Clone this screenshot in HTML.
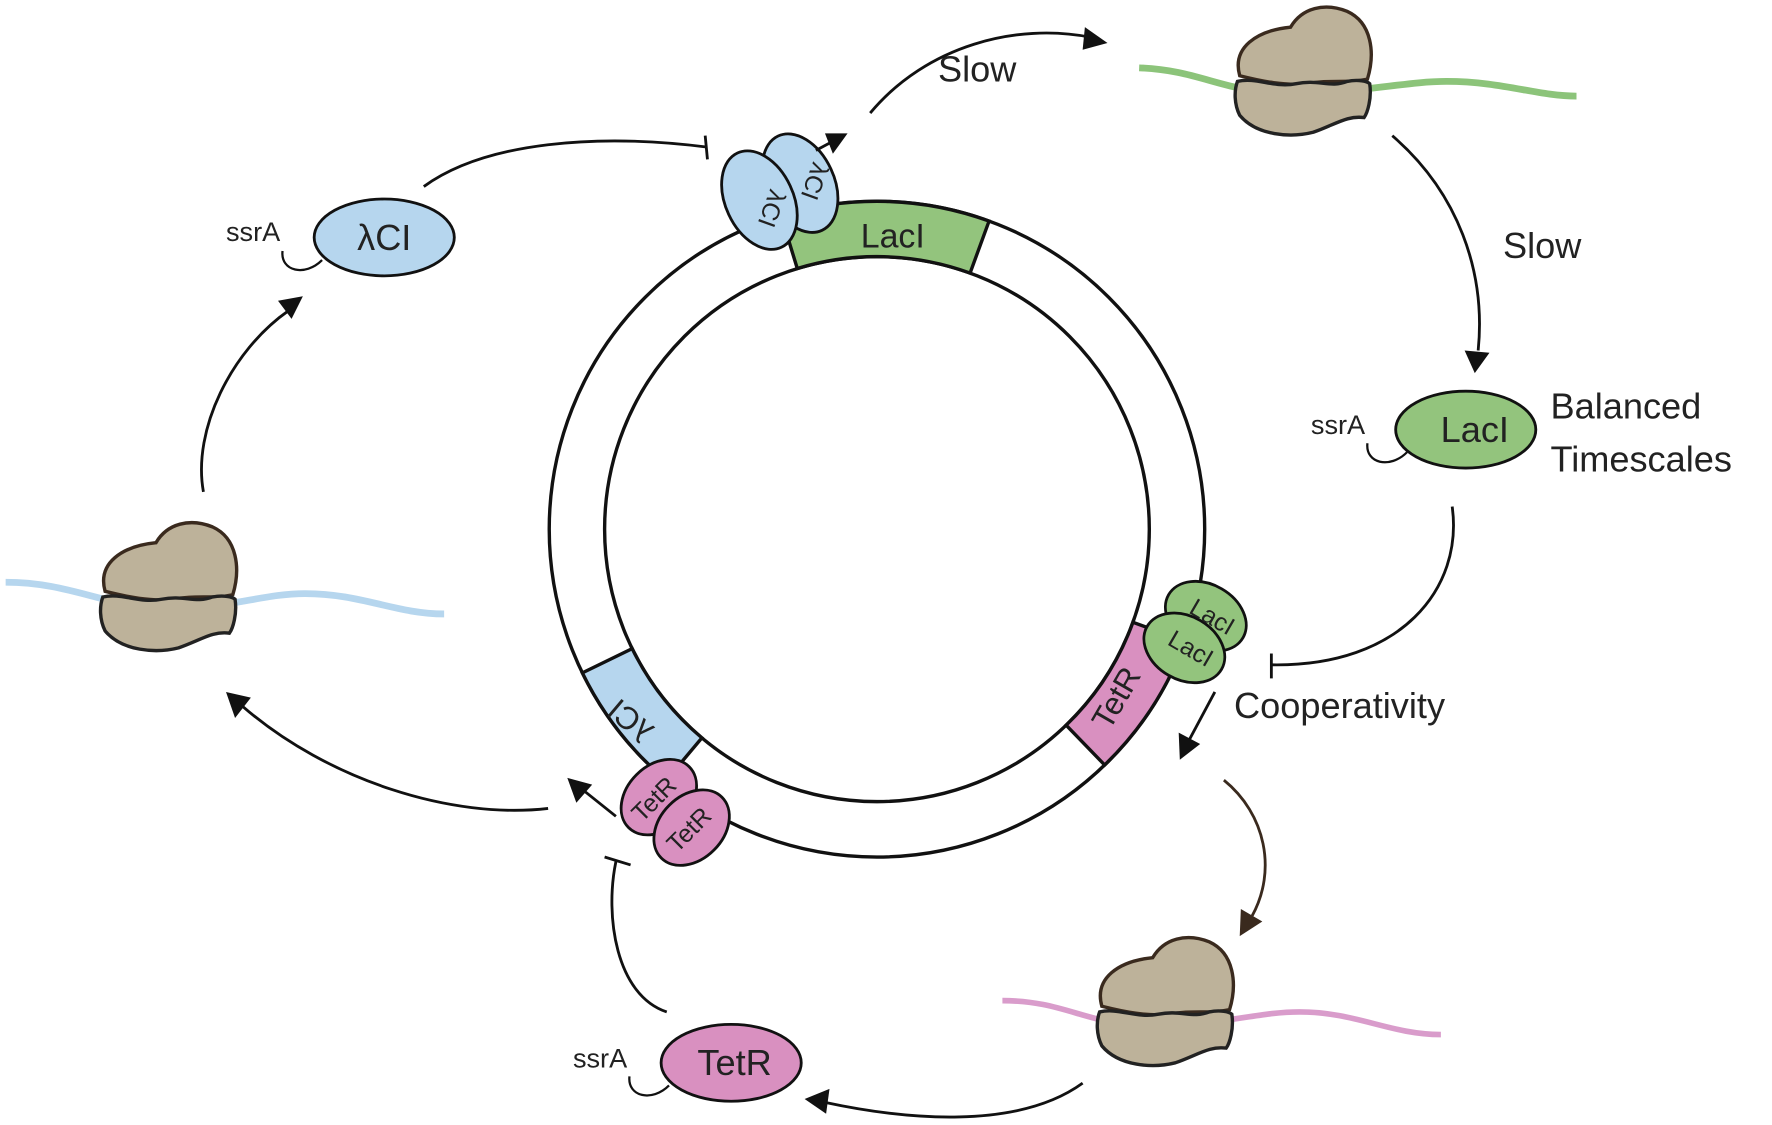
<!DOCTYPE html>
<html><head><meta charset="utf-8"><style>
html,body{margin:0;padding:0;background:#fff;width:1772px;height:1125px;overflow:hidden}
svg{display:block}
text{font-family:"Liberation Sans",Arial,sans-serif;fill:#222}
</style></head><body>
<svg width="1772" height="1125" viewBox="0 0 1568 995" preserveAspectRatio="none" xmlns="http://www.w3.org/2000/svg">
<defs>
<g id="ribo">
  <path d="M-55,-5 C-62,-30 -40,-45 -10,-48 C0,-65 20,-70 40,-62 C62,-52 65,-25 58,-2 C40,2 25,-2 5,2 C-15,4 -35,0 -55,-5Z" fill="#bdb29a" stroke="#3a2a1e" stroke-width="3"/>
  <path d="M-57,0 C-40,-4 -25,6 -5,2 C15,-2 25,6 40,0 C50,-2 58,0 60,2 C62,15 58,28 55,32 C40,30 30,38 10,45 C-10,50 -40,48 -55,30 C-60,20 -60,8 -57,0Z" fill="#bdb29a" stroke="#222" stroke-width="3"/>
</g>
</defs>

<!-- mRNAs -->
<path d="M1008,60 C1060,62 1080,80 1130,82 C1200,84 1240,72 1280,72 C1330,72 1360,85 1395,85" fill="none" stroke="#8cc47a" stroke-width="6"/>
<path d="M5,515 C60,515 90,535 140,538 C200,540 230,525 270,525 C320,525 350,543 393,543" fill="none" stroke="#b6d6ee" stroke-width="6"/>
<path d="M887,885 C940,885 960,905 1010,907 C1080,908 1110,895 1150,895 C1200,895 1230,915 1275,915" fill="none" stroke="#d99ccb" stroke-width="5"/>
<use href="#ribo" transform="translate(1152,72)"/>
<use href="#ribo" transform="translate(148,528)"/>
<use href="#ribo" transform="translate(1030,895)"/>

<!-- ring -->
<circle cx="776" cy="468" r="290" fill="none" stroke="#111" stroke-width="3"/>
<circle cx="776" cy="468" r="241" fill="none" stroke="#111" stroke-width="3"/>
<path d="M691.2,190.7 A290,290 0 0 1 875.2,195.5 L858.4,241.5 A241,241 0 0 0 705.5,237.5 Z" fill="#93c47d" stroke="#111" stroke-width="3"/>
<text x="790" y="219" font-size="30" text-anchor="middle">LacI</text>
<path d="M1048.5,567.2 A290,290 0 0 1 977.5,676.6 L943.4,641.4 A241,241 0 0 0 1002.5,550.4 Z" fill="#d990c0" stroke="#111" stroke-width="3"/>
<text font-size="28" text-anchor="middle" transform="translate(996,622) rotate(-60)">TetR</text>
<path d="M589.6,690.1 A290,290 0 0 1 515.3,595.1 L559.4,573.7 A241,241 0 0 0 621.1,652.6 Z" fill="#b6d6ee" stroke="#111" stroke-width="3"/>
<text font-size="28" text-anchor="middle" transform="translate(564,630) rotate(220)">λCI</text>

<!-- dimers -->
<g stroke="#111" stroke-width="2.5">
<ellipse cx="708" cy="162" rx="30" ry="46" transform="rotate(-25 708 162)" fill="#b6d6ee"/>
<ellipse cx="672" cy="177" rx="30" ry="46" transform="rotate(-25 672 177)" fill="#b6d6ee"/>
<ellipse cx="1067" cy="545" rx="38" ry="28" transform="rotate(30 1067 545)" fill="#93c47d"/>
<ellipse cx="1048" cy="573" rx="38" ry="28" transform="rotate(30 1048 573)" fill="#93c47d"/>
<ellipse cx="583" cy="705" rx="38" ry="28" transform="rotate(-45 583 705)" fill="#d990c0"/>
<ellipse cx="612" cy="732" rx="38" ry="28" transform="rotate(-45 612 732)" fill="#d990c0"/>
</g>
<text font-size="22" text-anchor="middle" transform="translate(714,158) rotate(110)">λCI</text>
<text font-size="22" text-anchor="middle" transform="translate(676,182) rotate(110)">λCI</text>
<text font-size="22" text-anchor="middle" transform="translate(1069,552) rotate(30)">LacI</text>
<text font-size="22" text-anchor="middle" transform="translate(1050,580) rotate(30)">LacI</text>
<text font-size="22" text-anchor="middle" transform="translate(584,712) rotate(-45)">TetR</text>
<text font-size="22" text-anchor="middle" transform="translate(615,739) rotate(-45)">TetR</text>

<!-- proteins -->
<ellipse cx="340" cy="210" rx="62" ry="34" fill="#b6d6ee" stroke="#111" stroke-width="2.5"/>
<text x="340" y="221" font-size="32" text-anchor="middle">λCI</text>
<text x="200" y="213" font-size="24">ssrA</text>
<path d="M250,222 C248,240 270,245 285,230" fill="none" stroke="#111" stroke-width="2"/>
<ellipse cx="1297" cy="380" rx="62" ry="34" fill="#93c47d" stroke="#111" stroke-width="2.5"/>
<text x="1305" y="391" font-size="32" text-anchor="middle">LacI</text>
<text x="1160" y="384" font-size="24">ssrA</text>
<path d="M1210,392 C1208,410 1230,415 1245,400" fill="none" stroke="#111" stroke-width="2"/>
<ellipse cx="647" cy="940" rx="62" ry="34" fill="#d990c0" stroke="#111" stroke-width="2.5"/>
<text x="650" y="951" font-size="32" text-anchor="middle">TetR</text>
<text x="507" y="944" font-size="24">ssrA</text>
<path d="M557,952 C555,970 577,975 592,960" fill="none" stroke="#111" stroke-width="2"/>

<!-- labels -->
<text x="830" y="72" font-size="32">Slow</text>
<text x="1330" y="228" font-size="32">Slow</text>
<text x="1372" y="370" font-size="32">Balanced</text>
<text x="1372" y="417" font-size="32">Timescales</text>
<text x="1092" y="635" font-size="32">Cooperativity</text>

<!-- connectors -->
<g fill="none" stroke="#111" stroke-width="2.5">
<path d="M770,100 C820,40 900,20 965,33"/>
<path d="M1232,120 C1290,170 1315,240 1308,310"/>
<path d="M1285,448 C1295,520 1240,590 1125,588"/>
<path d="M1125,578 L1125,600"/>
<path d="M1075,612 L1052,655"/>
<path d="M1083,690 C1120,720 1130,770 1108,810" stroke="#3a2a1e"/>
<path d="M958,958 C900,1000 800,990 730,975"/>
<path d="M590,895 C545,880 535,810 545,762"/>
<path d="M535,758 L558,765"/>
<path d="M485,715 C400,725 290,690 215,625"/>
<path d="M180,435 C170,380 205,310 255,275"/>
<path d="M375,165 C430,125 530,118 625,130"/>
<path d="M624,120 L626,141"/>
<path d="M722,133 L735,126"/>
<path d="M545,722 L515,698"/>
</g>
<g fill="#111">
<polygon points="980,38 960,24 958,44"/>
<polygon points="1305,330 1296,310 1318,312"/>
<polygon points="1044,672 1043,648 1062,658"/>
<polygon points="1097,828 1098,804 1117,815" fill="#3a2a1e"/>
<polygon points="712,972 734,963 731,985"/>
<polygon points="200,612 222,617 208,635"/>
<polygon points="268,262 258,282 246,266"/>
<polygon points="750,118 730,118 737,136"/>
<polygon points="502,688 524,694 510,710"/>
</g>
</svg>
</body></html>
